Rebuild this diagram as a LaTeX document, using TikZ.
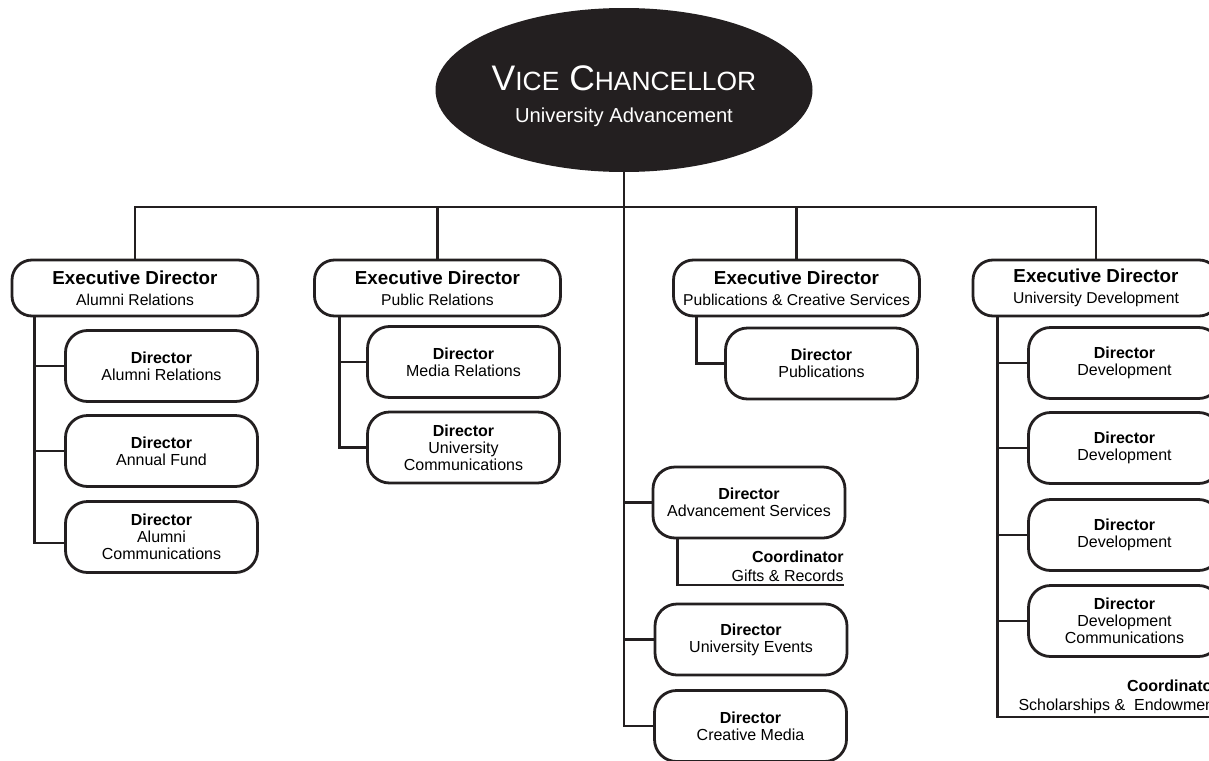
\documentclass[tikz,border=0pt]{standalone}
\usepackage{fontspec}
\setmainfont{Liberation Sans}
\usetikzlibrary{shapes.geometric}
\definecolor{ink}{RGB}{35,31,32}

\begin{document}
\begin{tikzpicture}[x=0.5pt,y=-0.5pt,
  link/.style={draw=ink, line width=1.4pt},
  execbox/.style={draw=ink, line width=1.4pt, rounded corners=10pt, minimum width=123pt, minimum height=28pt, inner sep=0pt, align=center, font=\fontsize{7.85}{10.5}\selectfont},
  dirbox/.style={draw=ink, line width=1.4pt, rounded corners=11pt, minimum width=96pt, minimum height=35.5pt, inner sep=0pt, align=center, font=\fontsize{8}{8.5}\selectfont},
  coordtext/.style={inner xsep=0pt, inner ysep=1.5pt, align=right, anchor=south east, font=\fontsize{8}{9.5}\selectfont}]
\useasboundingbox (0,0) rectangle (1209,760);
\clip (0,0) rectangle (1209,760);
\node[ellipse, fill=ink, text=white, minimum width=188.5pt, minimum height=82pt, inner sep=0pt, align=center, font=\fontsize{10.1}{16}\selectfont](vc) at (624,90){\rule{0pt}{19pt}{\fontsize{17.75}{16}\selectfont V{\fontsize{13.2}{16}\selectfont ICE} C{\fontsize{13.2}{16}\selectfont HANCELLOR}}\\University Advancement};
% executive directors
\node[execbox](ealum) at (135,288){{\fontsize{9.4}{10.5}\selectfont\bfseries Executive Director}\\Alumni Relations};
\node[execbox](epub) at (437.5,288){{\fontsize{9.4}{10.5}\selectfont\bfseries Executive Director}\\Public Relations};
\node[execbox](ecre) at (796.5,288){{\fontsize{9.4}{10.5}\selectfont\bfseries Executive Director}\\Publications \& Creative Services};
\node[execbox](edev) at (1096,288){{\fontsize{9.4}{10.5}\selectfont\bfseries Executive Director}\\University Development};
% directors
\node[dirbox](alrel) at (161.5,366){\textbf{Director}\\Alumni Relations};
\node[dirbox](annfund) at (161.5,451){\textbf{Director}\\Annual Fund};
\node[dirbox](alcom) at (161.5,537){\textbf{Director}\\Alumni\\Communications};
\node[dirbox](media) at (463.5,362){\textbf{Director}\\Media Relations};
\node[dirbox](ucom) at (463.5,447.5){\textbf{Director}\\University\\Communications};
\node[dirbox](pubs) at (821.5,363.5){\textbf{Director}\\Publications};
\node[dirbox](advsvc) at (749,502.5){\textbf{Director}\\Advancement Services};
\node[dirbox](uevents) at (751,639.5){\textbf{Director}\\University Events};
\node[dirbox](cmedia) at (750.5,726){\textbf{Director}\\Creative Media};
\node[dirbox](dev1) at (1124.5,363){\textbf{Director}\\Development};
\node[dirbox](dev2) at (1124.5,448){\textbf{Director}\\Development};
\node[dirbox](dev3) at (1124.5,535){\textbf{Director}\\Development};
\node[dirbox](devcom) at (1124.5,621){\textbf{Director}\\Development\\Communications};
% coordinators
\node[coordtext](cgift) at (844,585){\textbf{Coordinator}\\Gifts \& Records};
\node[coordtext](cschol) at (1219,717){\textbf{Coordinator}\\Scholarships \&\ \ Endowment};
% lines
\coordinate (bar) at (624,207);
\draw[link] (vc.south) |- (cmedia.west);
\draw[link] (vc.south) |- (advsvc.west);
\draw[link] (vc.south) |- (uevents.west);
\draw[link] (ealum.north) |- (bar) -| (edev.north);
\draw[link] (epub.north) -- (epub.north |- bar);
\draw[link] (ecre.north) -- (ecre.north |- bar);
\draw[link] ([xshift=12pt]ealum.south west) |- (alrel.west);
\draw[link] ([xshift=12pt]ealum.south west) |- (annfund.west);
\draw[link] ([xshift=12pt]ealum.south west) |- ([yshift=-3pt]alcom.west);
\draw[link] ([xshift=13pt]epub.south west) |- (media.west);
\draw[link] ([xshift=13pt]epub.south west) |- (ucom.west);
\draw[link] ([xshift=12pt]ecre.south west) |- (pubs.west);
\draw[link] ([xshift=13pt]advsvc.south west) |- (cgift.south east);
\draw[link] ([xshift=13pt]edev.south west) |- (dev1.west);
\draw[link] ([xshift=13pt]edev.south west) |- (dev2.west);
\draw[link] ([xshift=13pt]edev.south west) |- (dev3.west);
\draw[link] ([xshift=13pt]edev.south west) |- (devcom.west);
\draw[link] ([xshift=13pt]edev.south west) |- (cschol.south east);
\end{tikzpicture}
\end{document}
